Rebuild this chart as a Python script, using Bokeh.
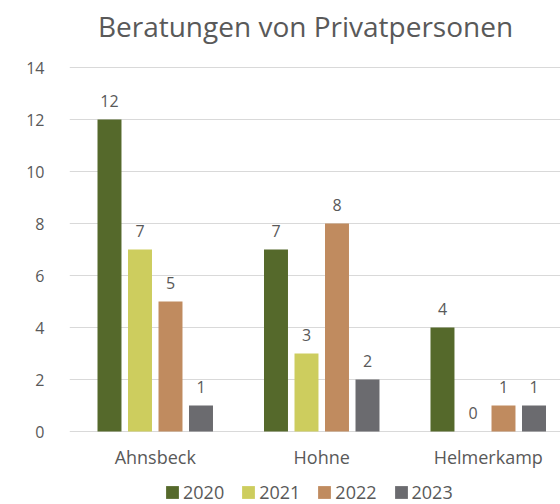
from bokeh.plotting import figure
from bokeh.models import (ColumnDataSource, Range1d, FixedTicker, LabelSet,
                          Label, Legend, LegendItem)
from bokeh.core.properties import value
from bokeh.transform import dodge
from bokeh.embed import file_html
from bokeh.resources import INLINE

title_text = "Beratungen von Privatpersonen"
categories = ["Ahnsbeck", "Hohne", "Helmerkamp"]
years = ["2020", "2021", "2022", "2023"]
v2020 = [12, 7, 4]
v2021 = [7, 3, 0]
v2022 = [5, 8, 1]
v2023 = [1, 2, 1]
colors = ["#55692b", "#cdcd5e", "#c08b5f", "#6b6b6f"]
y_ticks = [0, 2, 4, 6, 8, 10, 12, 14]

series = [v2020, v2021, v2022, v2023]
pos = [i + 0.5 for i in range(len(categories))]
data = dict(pos=pos, cat=categories, base=[0] * len(categories))
for y, v in zip(years, series):
    data["v" + y] = v
    data["t" + y] = [str(a) for a in v]
src = ColumnDataSource(data)

FONT = "Open Sans"
TXT = "#595959"

# frame spans the whole height; 26 px per unit, 0 at y=431, 14 at y=67
p = figure(width=560, height=504,
           x_range=Range1d(-0.015, 2.934), y_range=Range1d(-2.8077, 16.577),
           output_backend="svg", toolbar_location=None,
           min_border_left=69, min_border_right=0,
           min_border_top=0, min_border_bottom=0,
           outline_line_color=None, border_fill_color="white")
p.title.text = ""
p.title.visible = False

title = Label(x=1.4024, y=15.615, text=title_text, text_align="center",
              text_baseline="alphabetic", text_font=FONT,
              text_font_size="28px", text_color=TXT)
p.add_layout(title)

pitch = 0.1832
bw = 0.144
items = []
for j, (y, c) in enumerate(zip(years, colors)):
    off = (j - 1.5) * pitch
    r = p.vbar(x=dodge("pos", off, range=p.x_range), top="v" + y, width=bw,
               source=src, fill_color=c, line_color=None)
    items.append(LegendItem(label=y, renderers=[r]))
    lbl = LabelSet(x=dodge("pos", off, range=p.x_range), y="v" + y, text="t" + y,
                   source=src, text_align="center", text_baseline="alphabetic",
                   y_offset=13, text_font=value(FONT), text_font_size=value("16px"),
                   text_color=TXT)
    p.add_layout(lbl)

# category labels below the baseline
cat_lbl = LabelSet(x="pos", y="base", text="cat", source=src,
                   text_align="center", text_baseline="alphabetic", y_offset=-32,
                   text_font=value(FONT), text_font_size=value("18px"),
                   text_color=TXT)
p.add_layout(cat_lbl)

# axes
p.xaxis.visible = False
p.xgrid.grid_line_color = None

p.yaxis.ticker = FixedTicker(ticks=y_ticks)
p.yaxis.axis_line_color = None
p.yaxis.major_tick_line_color = None
p.yaxis.minor_tick_line_color = None
p.yaxis.major_label_standoff = 19
p.yaxis.major_label_text_font = FONT
p.yaxis.major_label_text_font_size = "16px"
p.yaxis.major_label_text_color = TXT
p.ygrid.grid_line_color = "#d9d9d9"
p.ygrid.grid_line_width = 1

legend = Legend(items=items, orientation="horizontal", location=(95, 0),
                border_line_color=None, background_fill_alpha=0,
                glyph_width=16, glyph_height=16, label_standoff=3, spacing=16,
                padding=0, margin=0, label_text_font=FONT,
                label_text_font_size="18px", label_text_color=TXT)
p.add_layout(legend, "center")

open("out.html", "w").write(file_html(p, INLINE))
